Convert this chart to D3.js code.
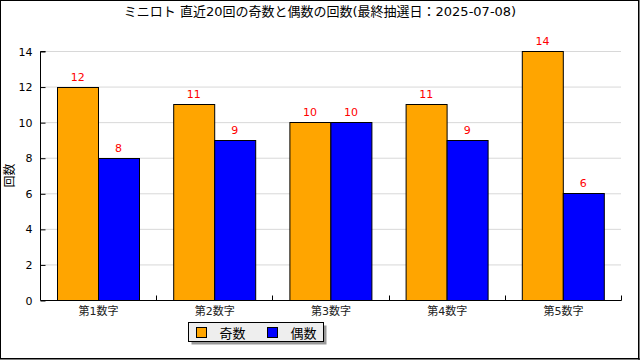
<!DOCTYPE html>
<html>
<head>
<meta charset="utf-8">
<script src="https://cdn.jsdelivr.net/npm/d3@7"></script>
<style>
  body { margin: 0; background: #fff; }
  svg { display: block; }
  text { font-family: "DejaVu Sans", "Noto Sans CJK JP", sans-serif; }
</style>
</head>
<body>
<div id="viz-chart"></div>
<script>
const title = "ミニロト 直近20回の奇数と偶数の回数(最終抽選日：2025-07-08)";
const categories = ["第1数字", "第2数字", "第3数字", "第4数字", "第5数字"];
const seriesNames = ["奇数", "偶数"];
const oddCounts = [12, 11, 10, 11, 14];
const evenCounts = [8, 9, 10, 9, 6];
const yTicks = [0, 2, 4, 6, 8, 10, 12, 14];
const colors = ["#ffa500", "#0000ff"];

const rows = categories.map((c, i) => ({ cat: c, values: [oddCounts[i], evenCounts[i]] }));

const width = 640, height = 360;
const margin = { left: 40, right: 19, top: 51, bottom: 60 };

const svg = d3
  .select("#viz-chart")
  .append("svg")
  .attr("width", width)
  .attr("height", height);

svg.append("rect")
  .attr("x", 0.5).attr("y", 0.5)
  .attr("width", width - 2).attr("height", height - 2)
  .style("fill", "#fff")
  .style("stroke", "black")
  .style("stroke-width", 1);
svg.append("line").attr("x1", width - 1).attr("x2", width - 1).attr("y1", 0).attr("y2", height).style("stroke", "black");
svg.append("line").attr("x1", 0).attr("x2", width).attr("y1", height - 1).attr("y2", height - 1).style("stroke", "black");

const x0 = d3.scaleBand()
  .domain(categories)
  .range([margin.left, width - margin.right]);

const x1 = d3.scaleBand()
  .domain([0, 1])
  .range([0, x0.bandwidth()])
  .paddingOuter(0.42);

const y = d3.scaleLinear()
  .domain([0, 14])
  .range([height - margin.bottom, margin.top]);

// grid
svg.append("g")
  .selectAll("line")
  .data(yTicks.filter((d) => d > 0))
  .enter()
  .append("line")
  .attr("x1", margin.left)
  .attr("x2", width - margin.right)
  .attr("y1", (d) => y(d) + 0.5)
  .attr("y2", (d) => y(d) + 0.5)
  .style("stroke", "#d8d8d8");

// bars
const groups = svg.selectAll(".grp")
  .data(rows)
  .enter()
  .append("g")
  .attr("transform", (d) => `translate(${x0(d.cat)},0)`);

groups.selectAll("rect")
  .data((d) => d.values.map((v, i) => ({ v, i })))
  .enter()
  .append("rect")
  .attr("x", (d) => Math.round(x1(d.i)) + 0.5)
  .attr("y", (d) => Math.round(y(d.v)) + 0.5)
  .attr("width", Math.round(x1.bandwidth()))
  .attr("height", (d) => Math.round(y(0)) - Math.round(y(d.v)))
  .style("fill", (d) => colors[d.i])
  .style("stroke", "black")
  .style("stroke-width", 1);

groups.selectAll(".val")
  .data((d) => d.values.map((v, i) => ({ v, i })))
  .enter()
  .append("text")
  .attr("x", (d) => x1(d.i) + x1.bandwidth() / 2)
  .attr("y", (d) => y(d.v) - 6)
  .attr("text-anchor", "middle")
  .style("font-size", "11px")
  .style("fill", "red")
  .text((d) => d.v);

// y axis
const yAxis = svg.append("g")
  .attr("transform", `translate(${margin.left + 0.5},0.5)`)
  .call(d3.axisRight(y).tickValues(yTicks).tickSize(5).tickFormat(d3.format("d")));
yAxis.select(".domain").attr("d", `M5,${y(14)}H0V${y(0)}`);
yAxis.selectAll("text")
  .attr("x", -8)
  .attr("text-anchor", "end")
  .style("font-size", "11px")
  .style("fill", "black");

// x axis
const xAxis = svg.append("g")
  .attr("transform", `translate(0.5,${y(0) + 0.5})`);
xAxis.append("line")
  .attr("x1", margin.left).attr("x2", width - margin.right)
  .style("stroke", "black");
xAxis.selectAll(".tk")
  .data(categories)
  .enter()
  .append("line")
  .attr("x1", (d) => Math.round(x0(d) + x0.bandwidth()))
  .attr("x2", (d) => Math.round(x0(d) + x0.bandwidth()))
  .attr("y1", 0).attr("y2", -5)
  .style("stroke", "black");
xAxis.selectAll("text")
  .data(categories)
  .enter()
  .append("text")
  .attr("x", (d) => x0(d) + x0.bandwidth() / 2)
  .attr("y", 14)
  .attr("text-anchor", "middle")
  .style("font-size", "11px")
  .style("fill", "#222")
  .text((d) => d);

// y label
svg.append("text")
  .attr("transform", `translate(14,${(y(0) + y(14)) / 2}) rotate(-90)`)
  .attr("text-anchor", "middle")
  .style("font-size", "12px")
  .text("回数");

// title
svg.append("text")
  .attr("x", 320)
  .attr("y", 16)
  .attr("text-anchor", "middle")
  .style("font-size", "13px")
  .text(title);

// legend
const lg = svg.append("g").attr("transform", "translate(188.5,322.5)");
lg.append("rect").attr("x", 3).attr("y", 3).attr("width", 135).attr("height", 19).style("fill", "#999");
lg.append("rect").attr("width", 135).attr("height", 19).style("fill", "#eeeeee").style("stroke", "black");
const items = lg.selectAll(".item")
  .data(seriesNames)
  .enter()
  .append("g")
  .attr("transform", (d, i) => `translate(${8 + i * 71},5)`);
items.append("rect")
  .attr("width", 10).attr("height", 10)
  .style("fill", (d, i) => colors[i])
  .style("stroke", "black");
items.append("text")
  .attr("x", 23)
  .attr("y", 10)
  .style("font-size", "13px")
  .text((d) => d);
</script>
</body>
</html>
